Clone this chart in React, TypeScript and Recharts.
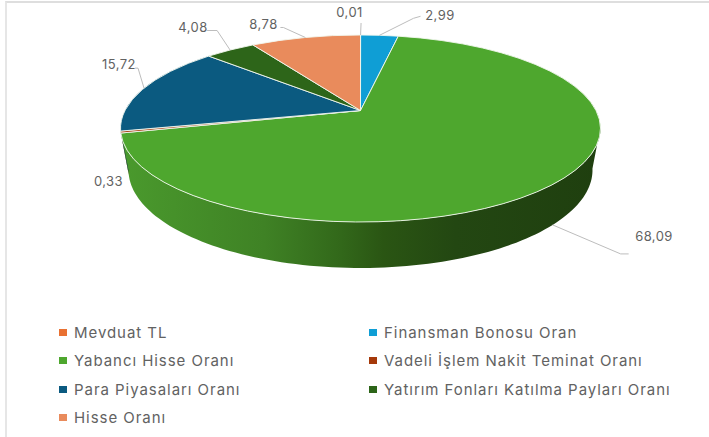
import React from 'react';
import { PieChart, Pie, Cell, Legend } from 'recharts';

const NAMES = ['Mevduat TL', 'Finansman Bonosu Oran', 'Yabancı Hisse Oranı', 'Vadeli İşlem Nakit Teminat Oranı', 'Para Piyasaları Oranı', 'Yatırım Fonları Katılma Payları Oranı', 'Hisse Oranı'];
const VALUES = [0.01, 2.99, 68.09, 0.33, 15.72, 4.08, 8.78];
const COLORS = ['#E97132', '#0F9ED5', '#4EA72E', '#A5390A', '#0B5A80', '#2D6519', '#E98B5C'];
const WALLS = ['#8a4420', '#0a6a90', 'url(#wall)', '#6a2507', '#083a54', '#1d4311', '#8c5337'];
const TABLE = NAMES.map((name, i) => ({ name, value: VALUES[i] }));

// Layout of the tilted disc
const W = 709, H = 437;
const AX = 360.5, AY = 110.5;            // apex of the slices
const CX = 360.5, CY = 128.5, RX = 240, RY = 93.5;   // top rim
const BX = 232, BCY = 170, BY = 98;      // bottom rim
const TILT = 90;

const rim = (angle: number) => {
  const th = ((90 - angle) * Math.PI) / 180;
  const dx = RX * Math.sin(th), dy = -TILT * Math.cos(th);
  const off = AY - CY;
  const a = (dx / RX) ** 2 + (dy / RY) ** 2;
  const b = (2 * dy * off) / (RY * RY);
  const c = (off / RY) ** 2 - 1;
  const s = (-b + Math.sqrt(b * b - 4 * a * c)) / (2 * a);
  const x = AX + dx * s, y = AY + dy * s;
  const sinT = (x - CX) / RX, cosT = -(y - CY) / RY;
  return { x, y, sinT, cosT };
};
const lower = (p: { sinT: number; cosT: number }) => ({ x: CX + BX * p.sinT, y: BCY - BY * p.cosT });

const Face = (props: any) => {
  const { startAngle, endAngle, fill } = props;
  const a = rim(startAngle), b = rim(endAngle);
  const large = Math.abs(endAngle - startAngle) > 180 ? 1 : 0;
  const d = `M${AX},${AY}L${a.x},${a.y}A${RX},${RY} 0 ${large} 1 ${b.x},${b.y}Z`;
  return <path d={d} fill={fill} stroke="#f2f7ee" strokeWidth={0.9} strokeLinejoin="round" />;
};

const Wall = (props: any) => {
  const { startAngle, endAngle, index } = props;
  const top: string[] = [], bottom: string[] = [];
  const n = Math.max(2, Math.ceil(Math.abs(endAngle - startAngle) / 1.5));
  for (let i = 0; i <= n; i++) {
    const p = rim(startAngle + ((endAngle - startAngle) * i) / n);
    if (p.cosT > 0.02) continue;
    const q = lower(p);
    top.push(`${p.x},${p.y}`);
    bottom.unshift(`${q.x},${q.y}`);
  }
  if (!top.length) return null;
  return <path d={`M${top.join('L')}L${bottom.join('L')}Z`} fill={WALLS[index]} stroke="none" />;
};

// Leader offsets from the slice's rim point, then the label centre
const LEADERS: any[] = [
  { pts: [[0.5, -12]], label: [349.5, 12] },
  { pts: [[34, -17], [41, -19]], label: [440, 15] },
  { pts: [[68, 29], [76, 29]], label: [654, 236], fromBottom: true },
  { pts: [], label: [108.5, 181] },
  { pts: [[-6, -20], [-9, -20]], label: [119, 64] },
  { pts: [[-13, -19.5], [-23, -19.5]], label: [193, 27] },
  { pts: [[-22, -10], [-25, -10]], label: [263.5, 24] },
];

const Lbl = (props: any) => {
  const { index, midAngle, value } = props;
  const cfg = LEADERS[index];
  const p = rim(midAngle);
  const s = cfg.fromBottom ? lower(p) : p;
  const pts = [[s.x, s.y], ...cfg.pts.map((o: number[]) => [s.x + o[0], s.y + o[1]])];
  return (
    <g>
      {cfg.pts.length > 0 && <polyline points={pts.map((q) => q.join(',')).join(' ')} fill="none" stroke="#bdbdbd" strokeWidth={1} />}
      <text x={cfg.label[0]} y={cfg.label[1]} dy="0.36em" textAnchor="middle" fill="#626262" fontSize={13} letterSpacing={0.45} fontFamily="Inter, sans-serif">
        {String(value).replace('.', ',')}
      </text>
    </g>
  );
};

const LegendBox = ({ payload }: any) => {
  const seen = new Map<string, any>();
  (payload || []).forEach((e: any) => seen.set(e.value, e));
  return (
    <div style={{ display: 'grid', gridTemplateColumns: '310px 330px', gridAutoRows: '28.5px', alignItems: 'center' }}>
      {NAMES.map((name, i) => (
        <div key={name} style={{ display: 'flex', alignItems: 'center', whiteSpace: 'nowrap', color: '#626262', fontSize: 15, letterSpacing: 0.95, fontFamily: 'Inter, sans-serif' }}>
          <span style={{ width: 8, height: 7, background: seen.get(name)?.color ?? COLORS[i], marginRight: 7, flex: 'none' }} />
          {name}
        </div>
      ))}
    </div>
  );
};

export default function App() {
  return (
    <div style={{ position: 'absolute', left: 0, top: 0, width: W, height: H, background: '#fff', overflow: 'hidden' }}>
      <div style={{ position: 'absolute', left: 5, top: 1, right: 0, bottom: 0, borderTop: '2px solid #dedede', borderLeft: '2px solid #e6e6e6' }} />
      <PieChart width={W} height={H} margin={{ top: 0, right: 0, bottom: 0, left: 0 }}>
        <defs>
          <linearGradient id="wall" gradientUnits="userSpaceOnUse" x1={120} x2={600} y1={0} y2={0}>
            <stop offset="0" stopColor="#4a9a2d" />
            <stop offset="0.3" stopColor="#3f8225" />
            <stop offset="0.46" stopColor="#32681a" />
            <stop offset="0.55" stopColor="#2a5513" />
            <stop offset="0.7" stopColor="#234712" />
            <stop offset="1" stopColor="#1f3f0f" />
          </linearGradient>
        </defs>
        <Pie data={TABLE} dataKey="value" nameKey="name" cx={AX} cy={AY} outerRadius={90} startAngle={90} endAngle={-270} isAnimationActive={false} shape={Wall} legendType="none" label={false} labelLine={false} />
        <Pie data={TABLE} dataKey="value" nameKey="name" cx={AX} cy={AY} outerRadius={90} startAngle={90} endAngle={-270} isAnimationActive={false} shape={Face} label={Lbl} labelLine={false}>
          {TABLE.map((d, i) => <Cell key={d.name} fill={COLORS[i]} />)}
        </Pie>
        <Legend content={LegendBox} itemSorter={null} wrapperStyle={{ left: 59, top: 318, width: 645, height: 116 }} />
      </PieChart>
    </div>
  );
}
